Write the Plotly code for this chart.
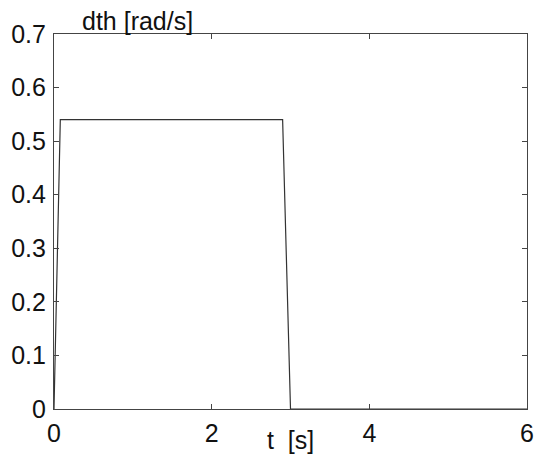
import plotly.graph_objects as go

t_vals = [0, 0.08, 2.9, 3.0, 6.0]
dth_vals = [0, 0.54, 0.54, 0, 0]
x_ticks = [0, 2, 4, 6]
y_ticks = [0, 0.1, 0.2, 0.3, 0.4, 0.5, 0.6, 0.7]
y_labels = ["0", "0.1", "0.2", "0.3", "0.4", "0.5", "0.6", "0.7"]

fig = go.Figure()
fig.add_trace(go.Scatter(x=t_vals, y=dth_vals, mode="lines",
                         line=dict(color="#333333", width=1.2), showlegend=False))

font = dict(family="Liberation Sans, Arial, sans-serif", size=25, color="#111111")
axis_common = dict(showgrid=False, zeroline=False, showline=True, linecolor="#444444",
                   linewidth=1.2, mirror="ticks", ticks="inside", ticklen=5,
                   tickcolor="#444444", tickwidth=1, tickfont=font, automargin=False)

fig.update_layout(
    width=537, height=457,
    margin=dict(l=54, r=10, t=34, b=48),
    paper_bgcolor="white", plot_bgcolor="white",
    xaxis=dict(range=[0, 6], tickvals=x_ticks, ticktext=[str(v) for v in x_ticks],
               ticklabelstandoff=2, **axis_common),
    yaxis=dict(range=[0, 0.7], tickvals=y_ticks, ticktext=y_labels,
               ticklabelstandoff=2, **axis_common),
    annotations=[
        dict(text="dth [rad/s]", x=(80 - 54) / (527 - 54), y=1.0, xref="paper", yref="paper",
             xanchor="left", yanchor="bottom", showarrow=False, font=font, yshift=-3),
        dict(text="t  [s]", x=0.5, y=0, xref="paper", yref="paper",
             xanchor="center", yanchor="bottom", showarrow=False, font=font, yshift=-47),
    ],
)
fig.write_html("out.html")
